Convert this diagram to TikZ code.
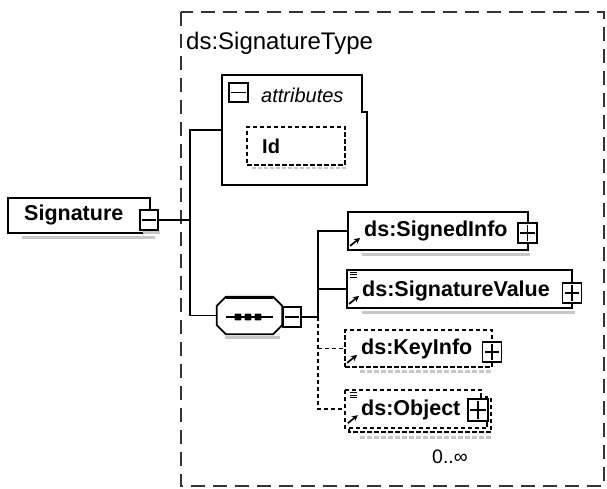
\documentclass[tikz,border=0pt]{standalone}
\usepackage{fontspec}
\setmainfont{Liberation Sans}
\usetikzlibrary{arrows.meta,calc}
\tikzset{
  box/.style={draw, line width=1.8pt, inner sep=0pt},
  dbox/.style={draw, line width=1.8pt, inner sep=0pt, dash pattern=on 4.5pt off 2.5pt},
  pmbox/.style={draw, line width=1.4pt, fill=white, minimum width=19pt, minimum height=20pt, inner sep=0pt},
  nm/.style={font=\fontsize{21.5}{24}\selectfont\bfseries, inner sep=0pt, anchor=west},
  shad/.style={draw=black!22, line width=3pt},
  conn/.style={line width=1.6pt},
  dconn/.style={line width=1.6pt, dash pattern=on 4pt off 3pt},
  refarrow/.style={line width=1.7pt, -{Stealth[length=6pt,width=6pt]}},
}
\newcommand\pmplus[1]{\draw[line width=1.2pt] ([xshift=3pt]#1.west) -- ([xshift=-3pt]#1.east) ([yshift=-3pt]#1.north) -- ([yshift=3pt]#1.south);}
\newcommand\pmminus[1]{\draw[line width=1.2pt] ([xshift=3pt]#1.west) -- ([xshift=-3pt]#1.east);}
\begin{document}
\begin{tikzpicture}[x=1pt,y=-1pt]
\useasboundingbox (0,0) rectangle (607,489);
% outer type frame
\draw[line width=1.6pt, black!80, dash pattern=on 14pt off 8pt] (181,12) rectangle (604,486);
\node[font=\fontsize{24}{28}\selectfont, anchor=west, inner sep=0pt] (stype) at (186,43) {ds:SignatureType};

% Signature
\draw[shad] (22,237) -- (155,237);
\node[box, minimum width=142pt, minimum height=35pt] (sig) at (79,215.5) {};
\node[nm] (sigt) at (24,215) {Signature};
\draw[shad] (143,232) -- (160,232);
\node[pmbox, minimum width=18pt] (sigm) at (149,220) {};
\pmminus{sigm}

% attributes
\node[minimum width=145pt, minimum height=110pt, inner sep=0pt] (attr) at (294.5,130) {};
\draw[line width=1.8pt] (attr.north west) -- ([xshift=-5pt]attr.north east) -- ++(0,37) -- ++(5,0) -- (attr.south east) -- (attr.south west) -- cycle;
\node[draw, line width=1.4pt, minimum width=19pt, minimum height=19pt, inner sep=0pt] (attrm) at (238.5,92.5) {};
\pmminus{attrm}
\node[font=\fontsize{20}{23}\selectfont\itshape, anchor=west, inner sep=0pt] (attrt) at (261,95) {attributes};
\draw[shad, line width=2pt, dash pattern=on 4pt off 2pt] (252,168) -- (346,168);
\node[dbox, minimum width=98pt, minimum height=38pt] (id) at (296,146) {};
\node[font=\fontsize{20}{23}\selectfont\bfseries, anchor=west, inner sep=0pt] (idt) at (262,146) {Id};

% sequence compositor
\node[minimum width=65pt, minimum height=37pt, inner sep=0pt] (seq) at (249.5,315.5) {};
\draw[shad] (225,337) -- (280,337);
\draw[line width=1.8pt, fill=white] ([xshift=9pt]seq.north west) -- ([xshift=-9pt]seq.north east) -- ([yshift=-9pt]seq.north east) -- ([yshift=9pt]seq.south east) -- ([xshift=-9pt]seq.south east) -- ([xshift=9pt]seq.south west) -- ([yshift=9pt]seq.south west) -- ([yshift=-9pt]seq.north west) -- cycle;
\draw[line width=2.2pt] ([xshift=9pt,yshift=-1.5pt]seq.north west) -- ([xshift=-9pt,yshift=-1.5pt]seq.north east);
\draw[line width=1.5pt] (226,317) -- (273,317);
\foreach \dx in {238,248,258} \fill[rounded corners=1pt] (\dx-3.4,313.6) rectangle (\dx+3.4,320.4);
\node[pmbox, minimum width=18pt] (seqm) at (292,317) {};
\pmminus{seqm}

% ds:SignedInfo
\draw[shad] (362,254) -- (530,254);
\node[box, minimum width=180pt, minimum height=38pt] (si) at (438,231) {};
\node[nm] (sit) at (364,231) {ds:SignedInfo};
\draw[refarrow] ([shift={(3pt,5pt)}]si.south west) -- ++(10,-8);
\node[pmbox] (sip) at (527.5,233) {};
\pmplus{sip}

% ds:SignatureValue
\draw[shad] (362,312) -- (575,312);
\node[box, minimum width=225pt, minimum height=38pt] (sv) at (459.5,289) {};
\node[nm] (svt) at (362,291) {ds:SignatureValue};
\draw[refarrow] ([shift={(3pt,5pt)}]sv.south west) -- ++(10,-8);
\draw[line width=1pt] ([shift={(4pt,-3pt)}]sv.north west) -- ++(7,0) ([shift={(4pt,-5.5pt)}]sv.north west) -- ++(7,0) ([shift={(4pt,-8pt)}]sv.north west) -- ++(7,0);
\node[pmbox] (svp) at (572,293) {};
\pmplus{svp}

% ds:KeyInfo
\draw[shad, dash pattern=on 5pt off 2pt] (360,371) -- (493,371);
\node[dbox, minimum width=147pt, minimum height=37pt] (ki) at (418.5,348.5) {};
\node[nm] (kit) at (361,349) {ds:KeyInfo};
\draw[refarrow] ([shift={(3pt,5pt)}]ki.south west) -- ++(10,-8);
\node[pmbox] (kip) at (492,352) {};
\pmplus{kip}

% ds:Object (multiple occurrences)
\draw[shad, dash pattern=on 5pt off 2pt] (360,437) -- (492,437);
\draw[line width=1.8pt, dash pattern=on 4.5pt off 2.5pt] (349,394) -- (349,432) -- (491,432) -- (491,396);
\node[minimum width=142pt, minimum height=38pt, inner sep=0pt] (ob) at (416,409) {};
\draw[line width=1.8pt, dash pattern=on 4.5pt off 2.5pt, fill=white] (ob.north west) -- ([xshift=-6pt]ob.north east) -- ++(0,7) -- ++(6,0) -- (ob.south east) -- (ob.south west) -- cycle;
\node[nm] (obt) at (361,410) {ds:Object};
\draw[refarrow] ([shift={(3pt,5pt)}]ob.south west) -- ++(10,-8);
\draw[line width=1pt] ([shift={(5pt,-3pt)}]ob.north west) -- ++(7,0) ([shift={(5pt,-5.5pt)}]ob.north west) -- ++(7,0) ([shift={(5pt,-8pt)}]ob.north west) -- ++(7,0);
\node[pmbox, minimum width=20pt, minimum height=22pt] (obp) at (478,410) {};
\pmplus{obp}
\node[font=\fontsize{19.5}{22}\selectfont, inner sep=0pt] (occ) at (450,457) {0..∞};

% connectors
\coordinate (lv) at (190,0);
\coordinate (rv) at (318,0);
\draw[conn] (sigm.east) -- (sigm.east -| lv);
\draw[conn] (attr.west) -- (attr.west -| lv) -- (seq.west -| lv) -- (seq.west);
\draw[conn] (seqm.east) -- (seqm.east -| rv);
\draw[conn] (si.west) -- (si.west -| rv) -- (seqm.east -| rv);
\draw[conn] (sv.west) -- (sv.west -| rv);
\draw[dconn] (seqm.east -| rv) -- (ob.west -| rv) -- (ob.west);
\draw[dconn] (ki.west -| rv) -- (ki.west);
\end{tikzpicture}
\end{document}
